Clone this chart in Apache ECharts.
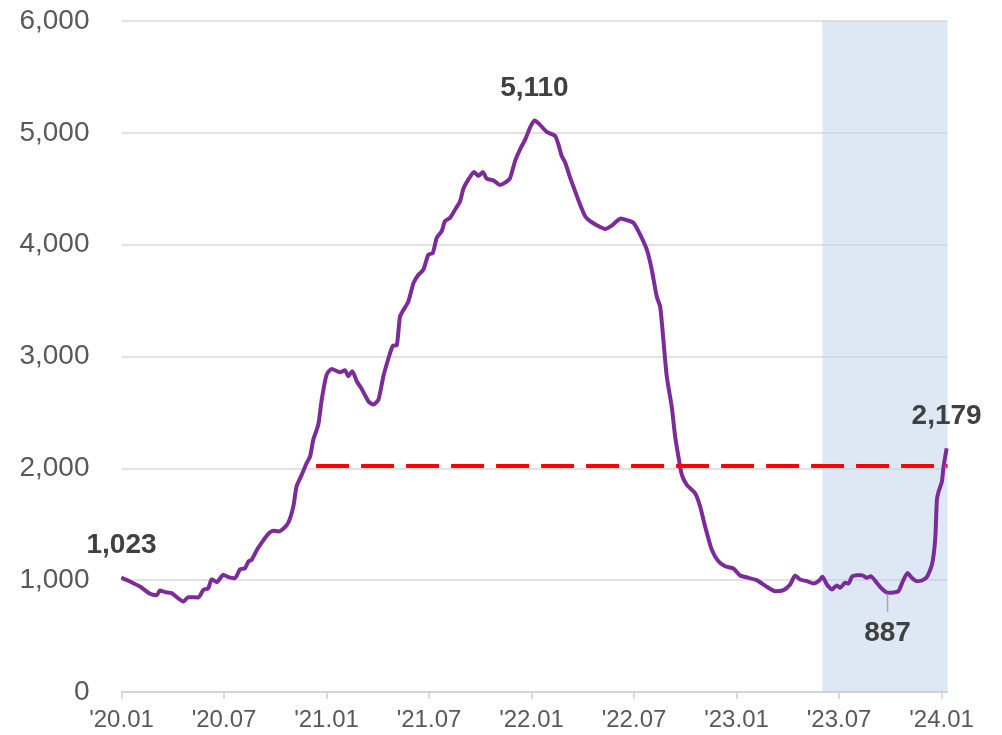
<!DOCTYPE html>
<html>
<head>
<meta charset="utf-8">
<title>chart</title>
<style>
  html, body { margin: 0; padding: 0; background: #fff; }
  #chart { width: 1002px; height: 735px; }
</style>
</head>
<body>
<div id="chart"></div>
<script src="https://cdn.jsdelivr.net/npm/echarts@6/dist/echarts.min.js"></script>
<script>
// x position = months since 2020.01
const months = [
  0, 0.5, 1.08, 1.67, 2.06, 2.25, 2.55, 2.94, 3.23, 3.62, 3.91, 4.5, 4.79, 5.08, 5.28, 5.57, 5.96,
  6.25, 6.64, 6.94, 7.23, 7.43, 7.62, 7.91, 8.3, 8.6, 8.89, 9.18, 9.47, 9.77, 10.06, 10.25, 10.55,
  10.84, 11.04, 11.23, 11.52, 11.72, 12.01, 12.3, 12.79, 13.08, 13.28, 13.51, 13.77, 14.06, 14.45,
  14.74, 15.04, 15.33, 15.62, 15.88, 16.11, 16.3, 16.5, 16.79, 17.09, 17.38, 17.67, 17.96, 18.22,
  18.45, 18.74, 18.94, 19.23, 19.53, 19.82, 20.01, 20.31, 20.64, 20.89, 21.15, 21.38, 21.77, 22.16,
  22.45, 22.74, 23.04, 23.33, 23.62, 23.92, 24.17, 24.46, 24.89, 25.38, 25.57, 25.77, 25.97, 26.26,
  26.55, 26.84, 27.14, 27.43, 27.82, 28.31, 28.7, 28.99, 29.23, 29.58, 29.97, 30.36, 30.75, 31.04,
  31.33, 31.53, 31.72, 31.92, 32.21, 32.41, 32.6, 32.8, 33.09, 33.58, 33.87, 34.16, 34.55, 34.94,
  35.33, 35.82, 36.21, 36.7, 37.18, 37.77, 38.26, 38.75, 39.14, 39.43, 39.72, 40.12, 40.51, 40.8,
  41.03, 41.29, 41.58, 41.87, 42.07, 42.36, 42.56, 42.75, 43.04, 43.34, 43.63, 43.86, 44.21, 44.51,
  44.84, 45.19, 45.48, 45.74, 46.01, 46.26, 46.56, 46.85, 47.14, 47.44, 47.63, 47.73, 47.83, 48.02,
  48.12, 48.3
];
const counts = [
  1023, 988, 943, 878, 866, 907, 893, 884, 848, 809, 848, 845, 913, 928, 1009, 982, 1048,
  1027, 1018, 1098, 1107, 1167, 1182, 1266, 1355, 1415, 1442, 1436, 1460, 1516, 1660, 1839, 1943,
  2048, 2107, 2257, 2391, 2615, 2839, 2889, 2860, 2877, 2824, 2869, 2779, 2710, 2600,
  2570, 2615, 2824, 2980, 3095, 3100, 3356, 3416, 3491, 3656, 3731, 3776, 3910, 3925,
  4060, 4120, 4210, 4240, 4314, 4389, 4500, 4584, 4650, 4614, 4650, 4590, 4575, 4533,
  4554, 4593, 4749, 4853, 4937, 5048, 5110, 5078, 5009, 4973, 4898, 4793, 4734, 4599,
  4479, 4359, 4254, 4210, 4174, 4141, 4171, 4210, 4234, 4219, 4195, 4090, 3955, 3776,
  3536, 3446, 3147, 2818, 2549, 2282, 2104, 1941, 1852, 1777, 1659, 1481, 1273, 1169,
  1125, 1104, 1042, 1021, 1000, 941, 902, 911, 961, 1042, 1006, 991, 970, 991,
  1030, 961, 917, 953, 932, 976, 970, 1030, 1045, 1045, 1021, 1036, 976, 923,
  887, 890, 902, 991, 1065, 1021, 991, 997, 1027, 1139, 1362, 1718, 1792, 1881,
  2015, 2179
];
const tickMonths = [0, 6, 12, 18, 24, 30, 36, 42, 48];
const tickLabels = ["'20.01", "'20.07", "'21.01", "'21.07", "'22.01", "'22.07", "'23.01", "'23.07", "'24.01"];
const xMax = 48.35;
const shadeStart = 41.03;
const refLevel = 2025;
const refStart = 11.39;

const fmt = v => v.toLocaleString('en-US');

// which points get a value label
let peakIdx = 0;
counts.forEach((v, i) => { if (v > counts[peakIdx]) peakIdx = i; });
let lowIdx = -1;
months.forEach((m, i) => {
  if (m >= shadeStart && (lowIdx < 0 || counts[i] < counts[lowIdx])) lowIdx = i;
});
const lastIdx = counts.length - 1;

const labelBase = {
  show: true,
  opacity: 1,
  fontFamily: 'Liberation Sans, Arial, sans-serif',
  fontSize: 28,
  fontWeight: 'bold',
  color: '#404040',
  formatter: p => fmt(p.value[1])
};

const seriesData = months.map((m, i) => {
  const item = { value: [m, counts[i]] };
  if (i === 0 || i === peakIdx || i === lastIdx) {
    item.label = Object.assign({}, labelBase, { position: 'top', distance: 18 });
  } else if (i === lowIdx) {
    item.label = Object.assign({}, labelBase, { position: 'bottom', distance: 26 });
  }
  return item;
});

const chart = echarts.init(document.getElementById('chart'));

chart.setOption({
  animation: false,
  grid: { left: 121.5, right: 54.5, top: 21, bottom: 43, containLabel: false },
  xAxis: {
    type: 'value',
    min: 0,
    max: xMax,
    interval: 6,
    axisLine: { show: true, lineStyle: { color: '#d0d0d0', width: 1.5 } },
    axisTick: { show: true, length: 7, customValues: tickMonths, lineStyle: { color: '#d0d0d0', width: 1.5 } },
    splitLine: { show: false },
    axisLabel: {
      customValues: tickMonths,
      margin: 16,
      fontFamily: 'Liberation Sans, Arial, sans-serif',
      fontSize: 24,
      color: '#595959',
      formatter: v => tickLabels[tickMonths.indexOf(v)] || ''
    }
  },
  yAxis: {
    type: 'value',
    min: 0,
    max: 6000,
    interval: 1000,
    axisLine: { show: false },
    axisTick: { show: false },
    splitLine: { lineStyle: { color: '#d9d9d9', width: 1.5 } },
    axisLabel: {
      margin: 32,
      fontFamily: 'Liberation Sans, Arial, sans-serif',
      fontSize: 28,
      color: '#595959',
      formatter: v => fmt(v)
    }
  },
  series: [
    {
      type: 'line',
      data: seriesData,
      showSymbol: true,
      symbol: 'circle',
      symbolSize: 1,
      smooth: 0.2,
      lineStyle: { color: '#7b2c98', width: 4 },
      itemStyle: { color: '#7b2c98' },
      labelLayout: { hideOverlap: false },
      markArea: {
        silent: true,
        itemStyle: { color: 'rgba(187,209,233,0.5)' },
        data: [[{ xAxis: shadeStart }, { xAxis: xMax }]]
      },
      markLine: {
        silent: true,
        symbol: 'none',
        label: { show: false },
        lineStyle: { color: '#ff0000', width: 4, type: [33, 12] },
        data: [[{ coord: [refStart, refLevel] }, { coord: [xMax, refLevel] }]]
      },
      markPoint: {
        silent: true,
        label: { show: false },
        data: [{
          coord: [months[lowIdx], counts[lowIdx]],
          symbol: 'rect',
          symbolSize: [1.5, 18],
          symbolOffset: [0, 10],
          itemStyle: { color: '#a6a6a6', opacity: 1 }
        }]
      }
    }
  ]
});
</script>
</body>
</html>
